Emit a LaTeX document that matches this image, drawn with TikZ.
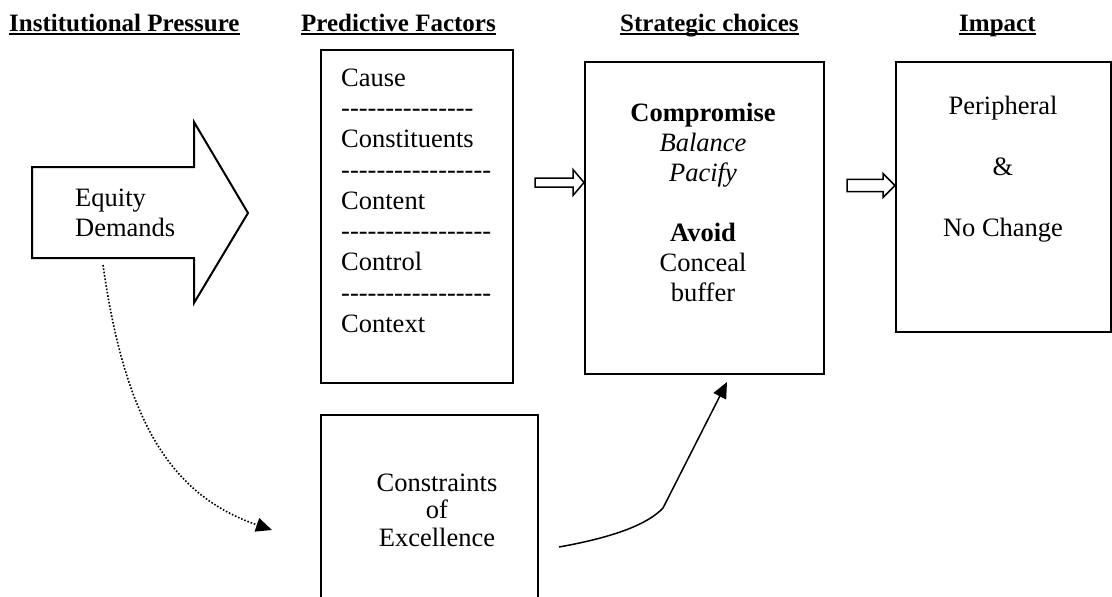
\documentclass[tikz,border=0pt]{standalone}
\usepackage{fontspec}
\setmainfont{Liberation Serif}
\usetikzlibrary{arrows.meta}
\newcommand\dashrow[1]{\foreach\k in {1,...,#1}{\mbox{-}}}
\begin{document}
\begin{tikzpicture}[x=1pt,y=-1pt,
  box/.style={draw,line width=2pt,inner sep=0pt,anchor=north west},
  txt/.style={font=\fontsize{26.5}{30}\selectfont,inner sep=0pt},
  hdr/.style={font=\fontsize{25}{30}\selectfont\bfseries,anchor=base west,inner sep=0pt},
  uline/.style={line width=2pt},
  outline/.style={draw,line width=2pt,line join=miter},
  hollow/.style={draw,line width=1.5pt,line join=miter,fill=white},
  dotcurve/.style={line width=1.6pt,dash pattern=on 1.6pt off 1.8pt,-{Triangle[length=16pt,width=14pt]}},
  solidcurve/.style={line width=1.5pt,-{Triangle[length=16pt,width=14pt]}}]
\useasboundingbox (0,0) rectangle (1112,597);

% headers
\node[hdr] (h1) at (9,31) {Institutional Pressure};
\node[hdr] (h2) at (301,31) {Predictive Factors};
\node[hdr] (h3) at (620,31) {Strategic choices\ };
\node[hdr] (h4) at (959,31) {Impact};
\foreach \h in {h1,h2,h3,h4}
  \draw[uline] ([yshift=-3pt]\h.base west) -- ([yshift=-3pt]\h.base east);

% big arrow
\draw[outline] (32,167) -- (194,167) -- (194,122) -- (248,213) -- (194,303) -- (194,258) -- (32,258) -- cycle;
\node[txt,anchor=base west] (eq1) at (75,206) {Equity};
\node[txt,anchor=base west] (eq2) at (75,236) {Demands};

% predictive factors box
\node[box,minimum width=192pt,minimum height=333pt] (pf) at (320,49) {};
\node[txt,anchor=base west] (pf0) at (341,86) {Cause};
\node[txt,anchor=base west] (pf1) at (341,116.75) {\dashrow{15}};
\node[txt,anchor=base west] (pf2) at (341,147.5) {Constituents};
\node[txt,anchor=base west] (pf3) at (341,178.25) {\dashrow{17}};
\node[txt,anchor=base west] (pf4) at (341,209) {Content};
\node[txt,anchor=base west] (pf5) at (341,239.75) {\dashrow{17}};
\node[txt,anchor=base west] (pf6) at (341,270.5) {Control};
\node[txt,anchor=base west] (pf7) at (341,301.25) {\dashrow{17}};
\node[txt,anchor=base west] (pf8) at (341,332) {Context};

% strategic choices box
\node[box,minimum width=239pt,minimum height=312pt] (sc) at (584,61) {};
\node[txt,anchor=base] (sc1) at (703,121) {\bfseries Compromise};
\node[txt,anchor=base] (sc2) at (703,151) {\itshape Balance};
\node[txt,anchor=base] (sc3) at (703,181) {\itshape Pacify};
\node[txt,anchor=base] (sc4) at (703,241) {\bfseries Avoid};
\node[txt,anchor=base] (sc5) at (703,271) {Conceal};
\node[txt,anchor=base] (sc6) at (703,301) {buffer};

% impact box
\node[box,minimum width=215pt,minimum height=270pt] (im) at (895,61) {};
\node[txt,anchor=base] (im1) at (1003,114) {Peripheral};
\node[txt,anchor=base] (im2) at (1003,175) {\&};
\node[txt,anchor=base] (im3) at (1003,236) {No Change};

% constraints box (runs off the bottom)
\node[box,minimum width=217pt,minimum height=220pt] (ce) at (320,414) {};
\node[txt,anchor=base] (ce1) at (437,491) {Constraints};
\node[txt,anchor=base] (ce2) at (437,518.5) {of};
\node[txt,anchor=base] (ce3) at (437,546) {Excellence};

% hollow arrows between boxes
\draw[hollow] (535,178) -- (573,178) -- (573,169.5) -- (sc.west |- 0,182.5) -- (573,195.5) -- (573,187) -- (535,187) -- cycle;
\draw[hollow] (847,179.3) -- (883,179.3) -- (883,173.5) -- (im.west |- 0,185.5) -- (883,197.5) -- (883,191.7) -- (847,191.7) -- cycle;

% curved connectors
\coordinate (ds) at (103,265);
\coordinate (de) at (272,530);
\draw[dotcurve] (ds) .. controls (125,420) and (170,495) .. (de);
\coordinate (ss) at (559,547);
\coordinate (sk) at (663,508);
\coordinate (se) at (727,382);
\draw[solidcurve] (ss) .. controls (615,537) and (648,524) .. (sk) -- (se);
\end{tikzpicture}
\end{document}
